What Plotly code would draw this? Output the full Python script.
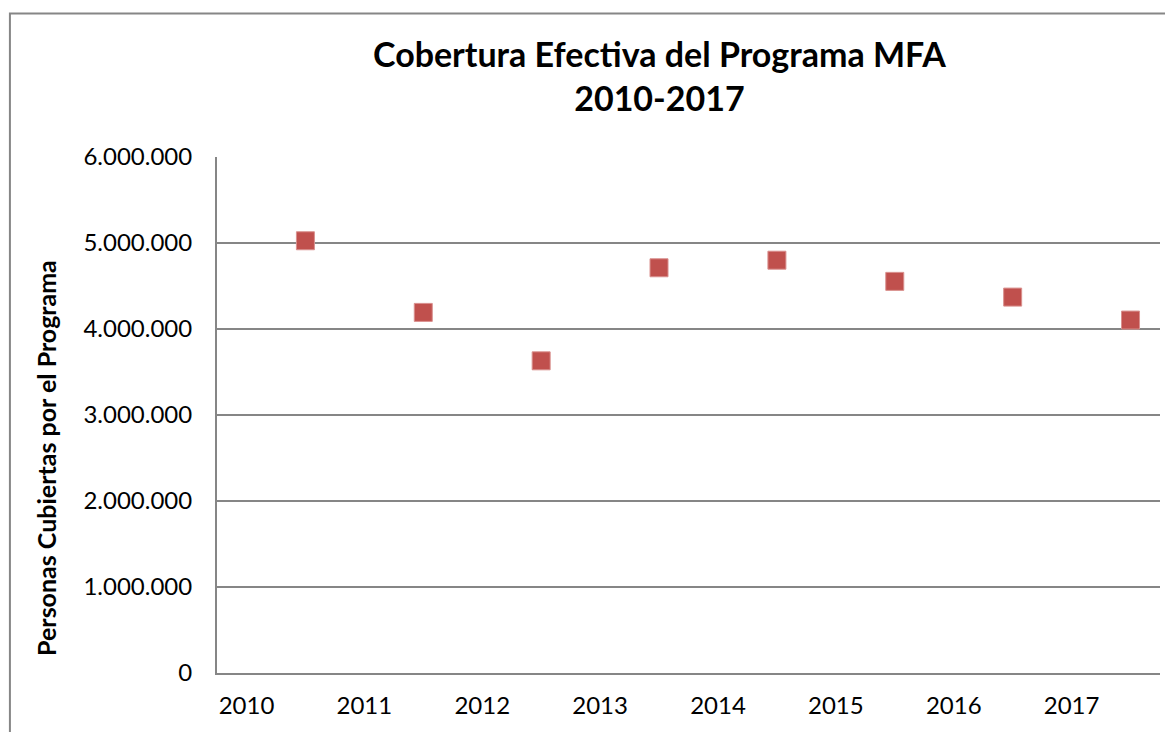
import plotly.graph_objects as go

years = [2010, 2011, 2012, 2013, 2014, 2015, 2016, 2017]
personas = [5026000, 4193000, 3630000, 4712000, 4800000, 4554000, 4371000, 4104000]
y_ticks = [0, 1000000, 2000000, 3000000, 4000000, 5000000, 6000000]

title_text = "<b>Cobertura Efectiva del Programa MFA<br>2010-2017</b>"
y_title = "<b>Personas Cubiertas por el Programa</b>"

FONT = "Lato, 'Open Sans', sans-serif"
GRID = "#868686"

fig = go.Figure()
fig.add_trace(go.Scatter(
    x=years, y=personas, mode="markers",
    marker=dict(symbol="square", size=18, color="#C0504D",
                line=dict(color="#D9908E", width=1)),
    showlegend=False, hoverinfo="x+y",
))

fig.update_layout(
    width=1173, height=732,
    margin=dict(l=209, r=21, t=149, b=67),
    paper_bgcolor="white", plot_bgcolor="white",
    separators=",.",
    font=dict(family=FONT, color="black"),
    xaxis=dict(
        range=[years[0] - 0.75, years[-1] + 0.25],
        tickvals=[y - 0.5 for y in years], ticktext=[str(y) for y in years],
        showgrid=False, zeroline=False,
        showline=True, linecolor=GRID, linewidth=2,
        ticks="outside", ticklen=10, tickcolor="rgba(0,0,0,0)",
        tickfont=dict(family=FONT, size=24, color="black"),
        fixedrange=True,
    ),
    yaxis=dict(
        range=[0, 6000000], tickvals=y_ticks, tickformat=",d",
        showgrid=True, gridcolor=GRID, gridwidth=1.8,
        zeroline=False, showline=True, linecolor=GRID, linewidth=2,
        ticks="outside", ticklen=18, tickcolor="rgba(0,0,0,0)",
        tickfont=dict(family=FONT, size=24, color="black"),
        fixedrange=True,
    ),
    annotations=[
        dict(text=title_text, xref="paper", yref="paper",
             x=0.4695, y=1.157, xanchor="center", yanchor="middle", showarrow=False,
             font=dict(family=FONT, size=34, color="black")),
        dict(text=y_title, textangle=-90, xref="paper", yref="paper",
             x=-0.182, y=0.4176, xanchor="center", yanchor="middle", showarrow=False,
             font=dict(family=FONT, size=25, color="black")),
    ],
    shapes=[dict(
        type="rect", xref="paper", yref="paper",
        x0=-0.2196, x1=1.2, y0=-0.4, y1=1.278,
        line=dict(color=GRID, width=2), fillcolor="rgba(0,0,0,0)", layer="below",
    )],
)

fig.write_html("out.html")
